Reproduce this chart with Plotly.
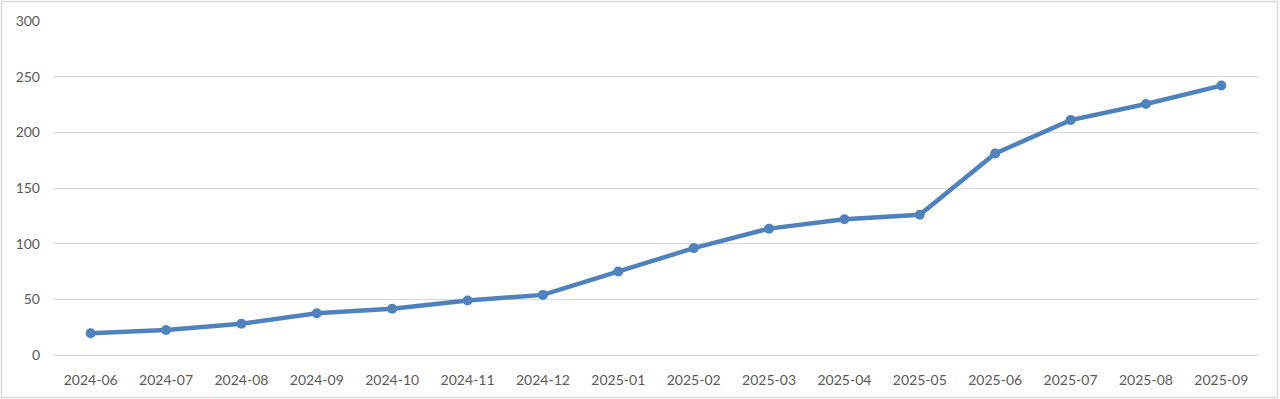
import plotly.graph_objects as go

months = ["2024-06", "2024-07", "2024-08", "2024-09", "2024-10", "2024-11", "2024-12",
          "2025-01", "2025-02", "2025-03", "2025-04", "2025-05", "2025-06", "2025-07",
          "2025-08", "2025-09"]
values = [19.5, 22.5, 28, 37.5, 41.5, 49, 54, 75, 96, 113.5, 122, 126, 181, 211, 225.5, 242]
y_ticks = [0, 50, 100, 150, 200, 250, 300]

W, H = 1280, 399
ml, mr, mt, mb = 53, 21, 21, 44
pw, ph = W - ml - mr, H - mt - mb

fig = go.Figure()
fig.add_trace(go.Scatter(
    x=list(range(len(months))), y=values, mode="lines+markers",
    line=dict(color="#4F81BD", width=4.5),
    marker=dict(color="#4F81BD", size=10),
    showlegend=False, hoverinfo="skip",
))

font = dict(family="Lato, 'Open Sans', sans-serif", size=14, color="#595959")

fig.update_layout(
    width=W, height=H,
    margin=dict(l=ml, r=mr, t=mt, b=mb),
    paper_bgcolor="white", plot_bgcolor="white",
    font=font,
    xaxis=dict(
        range=[-0.5, len(months) - 0.5],
        tickmode="array", tickvals=list(range(len(months))), ticktext=months,
        showgrid=False, zeroline=False, showline=True, linecolor="#D9D9D9", linewidth=1,
        ticks="", ticklabelstandoff=12, tickfont=font,
    ),
    yaxis=dict(
        range=[0, 300], tickmode="array", tickvals=y_ticks,
        showgrid=True, gridcolor="#D9D9D9", gridwidth=1,
        zeroline=False, showline=False, ticks="", ticklabelstandoff=12, tickfont=font,
    ),
    shapes=[dict(
        type="rect", xref="paper", yref="paper",
        x0=(1.5 - ml) / pw, x1=(1277.5 - ml) / pw,
        y0=(1.5 - mb) / ph, y1=(H - 1.5 - mb) / ph,
        line=dict(color="#D9D9D9", width=1.5), fillcolor="rgba(0,0,0,0)", layer="below",
    )],
)

fig.write_html("out.html")
